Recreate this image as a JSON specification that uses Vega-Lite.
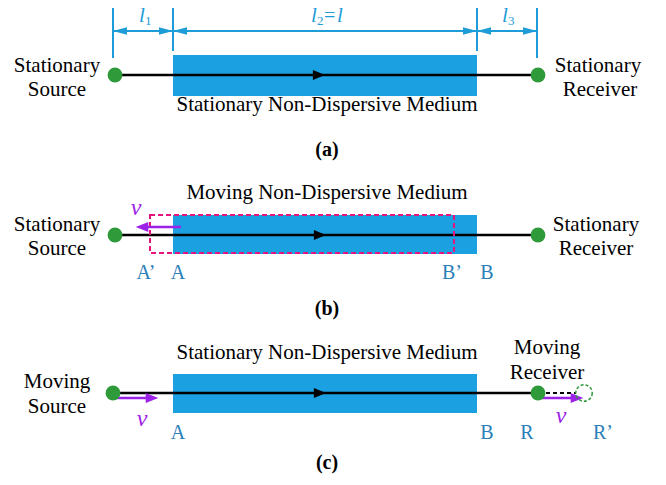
{
  "$schema": "https://vega.github.io/schema/vega-lite/v6.json",
  "width": 666,
  "height": 485,
  "padding": 0,
  "autosize": {"type": "fit", "contains": "padding"},
  "config": {"view": {"stroke": null}, "text": {"font": "'Liberation Serif', 'Times New Roman', Times, serif"}},
  "datasets": {
    "boxes": [
      {"x": 173, "x2": 477, "y": 55, "y2": 96},
      {"x": 173, "x2": 477, "y": 215, "y2": 254},
      {"x": 173, "x2": 477, "y": 374, "y2": 413}
    ],
    "dashbox": [{"x": 150, "x2": 454, "y": 215, "y2": 253}],
    "rules": [
      {"s": "black", "x": 115, "x2": 538, "y": 75, "y2": 75},
      {"s": "black", "x": 115, "x2": 538, "y": 235, "y2": 235},
      {"s": "black", "x": 113, "x2": 538, "y": 393, "y2": 393},
      {"s": "blackdash", "x": 546, "x2": 576, "y": 393, "y2": 393},
      {"s": "dim", "x": 113, "x2": 113, "y": 8, "y2": 58},
      {"s": "dim", "x": 173, "x2": 173, "y": 8, "y2": 51},
      {"s": "dim", "x": 477, "x2": 477, "y": 8, "y2": 51},
      {"s": "dim", "x": 537, "x2": 537, "y": 8, "y2": 58},
      {"s": "dim", "x": 113, "x2": 537, "y": 31, "y2": 31},
      {"s": "purple", "x": 181, "x2": 142, "y": 227, "y2": 227},
      {"s": "purple", "x": 113, "x2": 152, "y": 398, "y2": 398},
      {"s": "purple", "x": 538, "x2": 577, "y": 398, "y2": 398}
    ],
    "heads": [
      {"k": "dim", "x": 120, "y": 31, "d": "left"},
      {"k": "dim", "x": 166, "y": 31, "d": "right"},
      {"k": "dim", "x": 180, "y": 31, "d": "left"},
      {"k": "dim", "x": 470, "y": 31, "d": "right"},
      {"k": "dim", "x": 484, "y": 31, "d": "left"},
      {"k": "dim", "x": 530, "y": 31, "d": "right"},
      {"k": "black", "x": 319, "y": 75, "d": "rightwide"},
      {"k": "black", "x": 320, "y": 235, "d": "rightwide"},
      {"k": "black", "x": 320, "y": 393, "d": "rightwide"},
      {"k": "purple", "x": 142, "y": 227, "d": "leftwide"},
      {"k": "purple", "x": 152, "y": 398, "d": "rightwide"},
      {"k": "purple", "x": 577, "y": 398, "d": "rightwide"}
    ],
    "dots": [
      {"x": 115, "y": 75}, {"x": 538, "y": 75},
      {"x": 115, "y": 235}, {"x": 538, "y": 235},
      {"x": 113, "y": 393}, {"x": 538, "y": 393}
    ],
    "ghost": [{"x": 584, "y": 393}],
    "blacktext": [
      {"x": 57, "y": 66, "t": "Stationary"}, {"x": 57, "y": 90, "t": "Source"},
      {"x": 598, "y": 66, "t": "Stationary"}, {"x": 600, "y": 90, "t": "Receiver"},
      {"x": 327, "y": 105, "t": "Stationary Non-Dispersive Medium"},
      {"x": 327, "y": 193, "t": "Moving Non-Dispersive Medium"},
      {"x": 57, "y": 225, "t": "Stationary"}, {"x": 57, "y": 249, "t": "Source"},
      {"x": 596, "y": 225, "t": "Stationary"}, {"x": 596, "y": 249, "t": "Receiver"},
      {"x": 327, "y": 353, "t": "Stationary Non-Dispersive Medium"},
      {"x": 57, "y": 382, "t": "Moving"}, {"x": 57, "y": 407, "t": "Source"},
      {"x": 547, "y": 348, "t": "Moving"}, {"x": 547, "y": 373, "t": "Receiver"}
    ],
    "captions": [
      {"x": 327, "y": 150, "t": "(a)"},
      {"x": 327, "y": 309, "t": "(b)"},
      {"x": 327, "y": 463, "t": "(c)"}
    ],
    "points": [
      {"x": 146, "y": 273, "t": "A’"}, {"x": 178, "y": 273, "t": "A"},
      {"x": 452, "y": 273, "t": "B’"}, {"x": 487, "y": 273, "t": "B"},
      {"x": 178, "y": 433, "t": "A"}, {"x": 487, "y": 433, "t": "B"},
      {"x": 527, "y": 433, "t": "R"}, {"x": 603, "y": 433, "t": "R’"}
    ],
    "vel": [
      {"x": 136, "y": 208, "t": "v"},
      {"x": 142, "y": 419, "t": "v"},
      {"x": 561, "y": 416, "t": "v"}
    ],
    "dimital": [
      {"x": 139, "y": 22, "t": "l"},
      {"x": 311, "y": 22, "t": "l"},
      {"x": 337, "y": 22, "t": "l"},
      {"x": 502, "y": 22, "t": "l"}
    ],
    "dimsub": [
      {"x": 145, "y": 25, "t": "1"},
      {"x": 317, "y": 25, "t": "2"},
      {"x": 508, "y": 25, "t": "3"}
    ],
    "dimeq": [{"x": 324, "y": 22, "t": "="}]
  },
  "encoding": {
    "x": {"field": "x", "type": "quantitative", "scale": {"domain": [0, 666], "nice": false, "zero": false}, "axis": null},
    "y": {"field": "y", "type": "quantitative", "scale": {"domain": [0, 485], "nice": false, "zero": false, "reverse": true}, "axis": null}
  },
  "layer": [
    {"data": {"name": "boxes"}, "mark": {"type": "rect", "fill": "#1BA1E2"},
     "encoding": {"x2": {"field": "x2"}, "y2": {"field": "y2"}}},
    {"data": {"name": "rules"}, "transform": [{"filter": "datum.s == 'black'"}],
     "mark": {"type": "rule", "color": "#000000", "strokeWidth": 2.5},
     "encoding": {"x2": {"field": "x2"}, "y2": {"field": "y2"}}},
    {"data": {"name": "dashbox"}, "mark": {"type": "rect", "filled": false, "stroke": "#E5147F", "strokeWidth": 2, "strokeDash": [5, 3]},
     "encoding": {"x2": {"field": "x2"}, "y2": {"field": "y2"}}},
    {"data": {"name": "rules"}, "transform": [{"filter": "datum.s == 'blackdash'"}],
     "mark": {"type": "rule", "color": "#000000", "strokeWidth": 2.2, "strokeDash": [4, 3]},
     "encoding": {"x2": {"field": "x2"}, "y2": {"field": "y2"}}},
    {"data": {"name": "rules"}, "transform": [{"filter": "datum.s == 'dim'"}],
     "mark": {"type": "rule", "color": "#1E9CD8", "strokeWidth": 2},
     "encoding": {"x2": {"field": "x2"}, "y2": {"field": "y2"}}},
    {"data": {"name": "rules"}, "transform": [{"filter": "datum.s == 'purple'"}],
     "mark": {"type": "rule", "color": "#9B22E6", "strokeWidth": 2.5},
     "encoding": {"x2": {"field": "x2"}, "y2": {"field": "y2"}}},
    {"data": {"name": "heads"}, "transform": [{"filter": "datum.k == 'dim'"}],
     "mark": {"type": "point", "filled": true, "opacity": 1, "color": "#1E9CD8", "size": 196},
     "encoding": {"shape": {"field": "d", "type": "nominal", "legend": null,
       "scale": {"domain": ["right", "left", "rightwide", "leftwide"], "range": ["M-1,-0.55L1,0L-1,0.55Z", "M1,-0.55L-1,0L1,0.55Z", "M-1,-0.8L1,0L-1,0.8Z", "M1,-0.8L-1,0L1,0.8Z"]}}}},
    {"data": {"name": "heads"}, "transform": [{"filter": "datum.k == 'black'"}],
     "mark": {"type": "point", "filled": true, "opacity": 1, "color": "#000000", "size": 150},
     "encoding": {"shape": {"field": "d", "type": "nominal", "legend": null}}},
    {"data": {"name": "heads"}, "transform": [{"filter": "datum.k == 'purple'"}],
     "mark": {"type": "point", "filled": true, "opacity": 1, "color": "#9B22E6", "size": 160},
     "encoding": {"shape": {"field": "d", "type": "nominal", "legend": null}}},
    {"data": {"name": "dots"}, "mark": {"type": "circle", "color": "#2E9A3A", "opacity": 1, "size": 220}},
    {"data": {"name": "ghost"}, "mark": {"type": "point", "shape": "circle", "filled": false, "stroke": "#2E9A3A", "strokeWidth": 1.5, "strokeDash": [3, 2], "opacity": 1, "size": 270}},
    {"data": {"name": "blacktext"}, "mark": {"type": "text", "fontSize": 21, "color": "#000000", "align": "center", "baseline": "middle"},
     "encoding": {"text": {"field": "t"}}},
    {"data": {"name": "captions"}, "mark": {"type": "text", "fontSize": 20, "fontWeight": "bold", "color": "#000000", "align": "center", "baseline": "middle"},
     "encoding": {"text": {"field": "t"}}},
    {"data": {"name": "points"}, "mark": {"type": "text", "fontSize": 20, "color": "#2A80B9", "align": "center", "baseline": "middle"},
     "encoding": {"text": {"field": "t"}}},
    {"data": {"name": "vel"}, "mark": {"type": "text", "fontSize": 24, "fontStyle": "italic", "color": "#9B22E6", "align": "center", "baseline": "middle"},
     "encoding": {"text": {"field": "t"}}},
    {"data": {"name": "dimital"}, "mark": {"type": "text", "fontSize": 21, "fontStyle": "italic", "color": "#1E9CD8", "align": "left", "baseline": "alphabetic"},
     "encoding": {"text": {"field": "t"}}},
    {"data": {"name": "dimsub"}, "mark": {"type": "text", "fontSize": 13, "color": "#1E9CD8", "align": "left", "baseline": "alphabetic"},
     "encoding": {"text": {"field": "t"}}},
    {"data": {"name": "dimeq"}, "mark": {"type": "text", "fontSize": 20, "color": "#1E9CD8", "align": "left", "baseline": "alphabetic"},
     "encoding": {"text": {"field": "t"}}}
  ]
}
